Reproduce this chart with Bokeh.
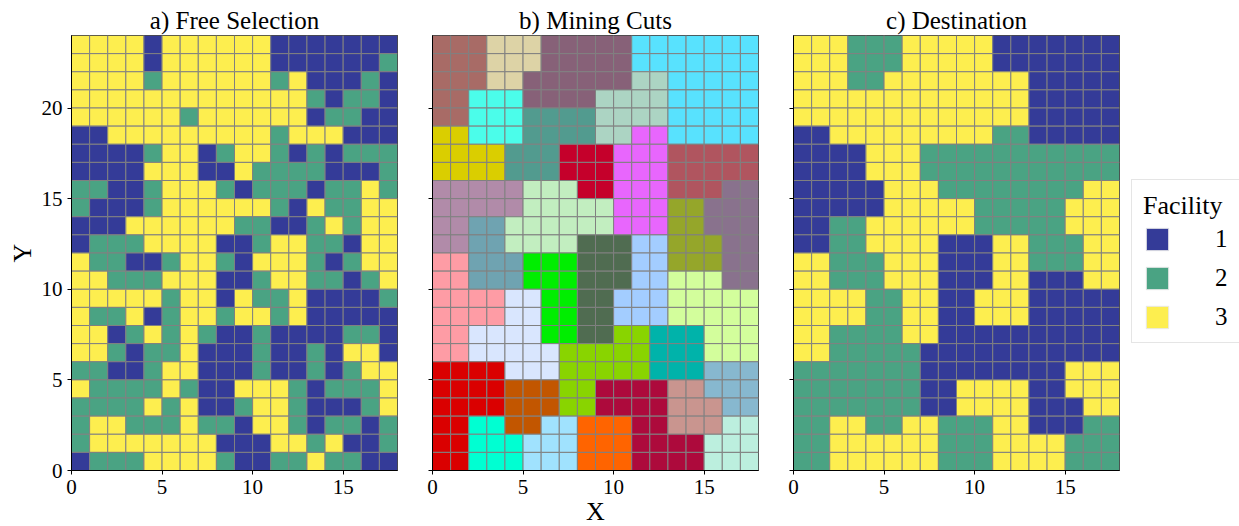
from bokeh.plotting import figure
from bokeh.models import ColumnDataSource, FixedTicker, Legend, LegendItem
from bokeh.layouts import row
from bokeh.embed import file_html
from bokeh.resources import INLINE

N_COLS, N_ROWS = 18, 24

# Facility assigned to each block, top row (Y=23) first, one digit per column
free_selection = [
    "333313333331111111",
    "333313333331111112",
    "333323333332311121",
    "333333333333321221",
    "333333233333312211",
    "113333333332333111",
    "111123312332121222",
    "111133311322221112",
    "221123332122212232",
    "211123333332132233",
    "111333333221123233",
    "122233331123322133",
    "322112332133321233",
    "332223331123322123",
    "333332331322311112",
    "322312332332311111",
    "331232321121111221",
    "332122311121121331",
    "221123311121121233",
    "322223211333212223",
    "222232311233211123",
    "233222322133212212",
    "233333331113323112",
    "122233332112232211",
]

# Mining cut of each block, top row first, one character per column
mining_cuts = [
    "aaabbbcccccddddddd",
    "aaabbbcccccddddddd",
    "aaabbcccccceeddddd",
    "aafffcccceeeeddddd",
    "aafffggggeeeeddddd",
    "hhfffggggeejjddddd",
    "hhhhgggiiijjjkkkkk",
    "hhhhgggiiijjjkkkkk",
    "lllllmmmiijjjkkknn",
    "lllllmmmmmjjjoonnn",
    "llppmmmmmmjjjoonnn",
    "llppmmmmqqqrrooonn",
    "ttpppsssqqqrrooonn",
    "ttpppsssqqqrrvvvnn",
    "ttttuussqqrrrvvvvv",
    "ttttuussqqrrrvvvvv",
    "ttuuuussqqwwxxxvvv",
    "ttuuuuuwwwwwxxxvvv",
    "yyyyuuuwwwwwxxxCCC",
    "yyyyzzzwwAAAABBCCC",
    "yyyyzzzwwAAAABBBCC",
    "yyDDzzEEFFFAABBBGG",
    "yyDDDEEEFFFAAAAGGG",
    "yyDDDEEEFFFAAAAGGG",
]

# Destination facility of each block, top row first
destination = [
    "333222333331111111",
    "333222333331111111",
    "333223333333311111",
    "333333333333311111",
    "333333333333311111",
    "113333333332211111",
    "111133322222222222",
    "111133322222222222",
    "111113332222222233",
    "111113333322222333",
    "112233333322222333",
    "112233331113322233",
    "332223331113322233",
    "332223331113311133",
    "333322331133311111",
    "333322331133311111",
    "332222331111111111",
    "332222211111111111",
    "222222211111111333",
    "222222211333311333",
    "222222211333311133",
    "223322332223311122",
    "223333332223333222",
    "223333332223333222",
]

facility_ids = ["1", "2", "3"]
facility_colors = ["#343b98", "#4aa383", "#fdee4f"]

cut_ids = "abcdefghijklmnopqrstuvwxyzABCDEFG"
cut_colors = [
    "#a86b66", "#ddd3a6", "#876178", "#58e2fe", "#acd4c3", "#4bfdea",
    "#529b8f", "#dace00", "#c5002b", "#e866fd", "#b0555f", "#b18ba9",
    "#c2eec0", "#89728d", "#95a62a", "#6fa3b1", "#506c51", "#a3cdff",
    "#00ee00", "#fe9ca5", "#d9e6fe", "#d3fe9c", "#89d400", "#00b3aa",
    "#da0000", "#c25600", "#ad0a3c", "#c9958f", "#87b8cf", "#00ffd2",
    "#a0e2fe", "#ff6400", "#bcefde",
]

x_ticks = [0, 5, 10, 15]
y_ticks = [0, 5, 10, 15, 20]

FONT = "Liberation Serif"
EDGE = "#808080"


def cell_source(grid, ids, colors):
    lookup = dict(zip(ids, colors))
    xs, ys, vals, fills = [], [], [], []
    for r, line in enumerate(grid):
        yc = N_ROWS - 1 - r + 0.5
        for c, ch in enumerate(line):
            xs.append(c + 0.5)
            ys.append(yc)
            vals.append(ch)
            fills.append(lookup[ch])
    return ColumnDataSource(dict(x=xs, y=ys, value=vals, fill=fills))


def make_panel(title, border_left, border_right, show_ylabels,
               xlabel=None, ylabel=None):
    p = figure(frame_width=326, frame_height=435,
               x_range=(0, N_COLS), y_range=(0, N_ROWS),
               min_border_left=border_left, min_border_right=border_right,
               min_border_top=35, min_border_bottom=56,
               toolbar_location=None, output_backend="svg", title=title)
    p.title.align = "center"
    p.title.text_font = FONT
    p.title.text_font_size = "25px"
    p.title.text_font_style = "normal"
    p.title.text_color = "black"
    p.title.standoff = 4
    p.xgrid.visible = False
    p.ygrid.visible = False
    p.outline_line_color = "black"
    p.outline_line_width = 1
    p.outline_line_alpha = 1
    p.background_fill_color = "white"
    p.border_fill_color = "white"

    p.xaxis.ticker = FixedTicker(ticks=x_ticks, minor_ticks=[])
    p.yaxis.ticker = FixedTicker(ticks=y_ticks, minor_ticks=[])
    for ax in (p.xaxis, p.yaxis):
        ax.axis_line_color = "black"
        ax.major_tick_line_color = "black"
        ax.major_tick_out = 4
        ax.major_tick_in = 0
        ax.minor_tick_line_color = None
        ax.major_label_text_font = FONT
        ax.major_label_text_font_size = "21px"
        ax.major_label_text_color = "black"
        ax.major_label_standoff = 5
        ax.axis_label_text_font = FONT
        ax.axis_label_text_font_size = "26px"
        ax.axis_label_text_font_style = "normal"
        ax.axis_label_text_color = "black"
    if not show_ylabels:
        p.yaxis.major_label_overrides = {t: "" for t in y_ticks}
    if xlabel:
        p.xaxis.axis_label = xlabel
        p.xaxis.axis_label_standoff = 0
    if ylabel:
        p.yaxis.axis_label = ylabel
        p.yaxis.axis_label_standoff = 2
    return p


p_a = make_panel("a) Free Selection", 71, 2, True, ylabel="Y")
p_a.rect(x="x", y="y", width=1, height=1, fill_color="fill",
         line_color=EDGE, line_width=1,
         source=cell_source(free_selection, facility_ids, facility_colors))

p_b = make_panel("b) Mining Cuts", 33, 2, False, xlabel="X")
p_b.rect(x="x", y="y", width=1, height=1, fill_color="fill",
         line_color=EDGE, line_width=1,
         source=cell_source(mining_cuts, cut_ids, cut_colors))

p_c = make_panel("c) Destination", 33, 2, False)
dest_src = cell_source(destination, facility_ids, facility_colors)
p_c.rect(x="x", y="y", width=1, height=1, fill_color="fill",
         line_color=EDGE, line_width=1, source=dest_src)

# Legend strip to the right of panel c; it shares the destination blocks
# through a hidden renderer so each swatch takes a facility's own colour
p_leg = figure(width=118, height=526, min_border=0,
               x_axis_type=None, y_axis_type=None,
               toolbar_location=None, output_backend="svg")
p_leg.outline_line_color = None
p_leg.xgrid.visible = False
p_leg.ygrid.visible = False
p_leg.background_fill_color = "white"
p_leg.border_fill_color = "white"

swatch = p_leg.rect(x="x", y="y", width=1, height=1, fill_color="fill",
                    line_color="#e8e8e8", line_width=1, source=dest_src)
swatch.visible = False

vals = dest_src.data["value"]
items = [LegendItem(label=f, renderers=[swatch], index=vals.index(f))
         for f in facility_ids]

legend = Legend(items=items, title="Facility", location=(10, 125))
legend.click_policy = "none"
legend.title_text_font = FONT
legend.title_text_font_size = "26px"
legend.title_text_font_style = "normal"
legend.title_text_color = "black"
legend.title_standoff = 4
legend.label_text_font = FONT
legend.label_text_font_size = "25px"
legend.label_text_color = "black"
legend.glyph_width = 28
legend.glyph_height = 28
legend.label_height = 28
legend.label_standoff = 44
legend.spacing = 11
legend.padding = 11
legend.margin = 0
legend.border_line_color = "#cccccc"
legend.border_line_width = 1
legend.background_fill_color = "white"
p_leg.add_layout(legend)

layout = row(p_a, p_b, p_c, p_leg)
open("out.html", "w").write(file_html(layout, INLINE))
